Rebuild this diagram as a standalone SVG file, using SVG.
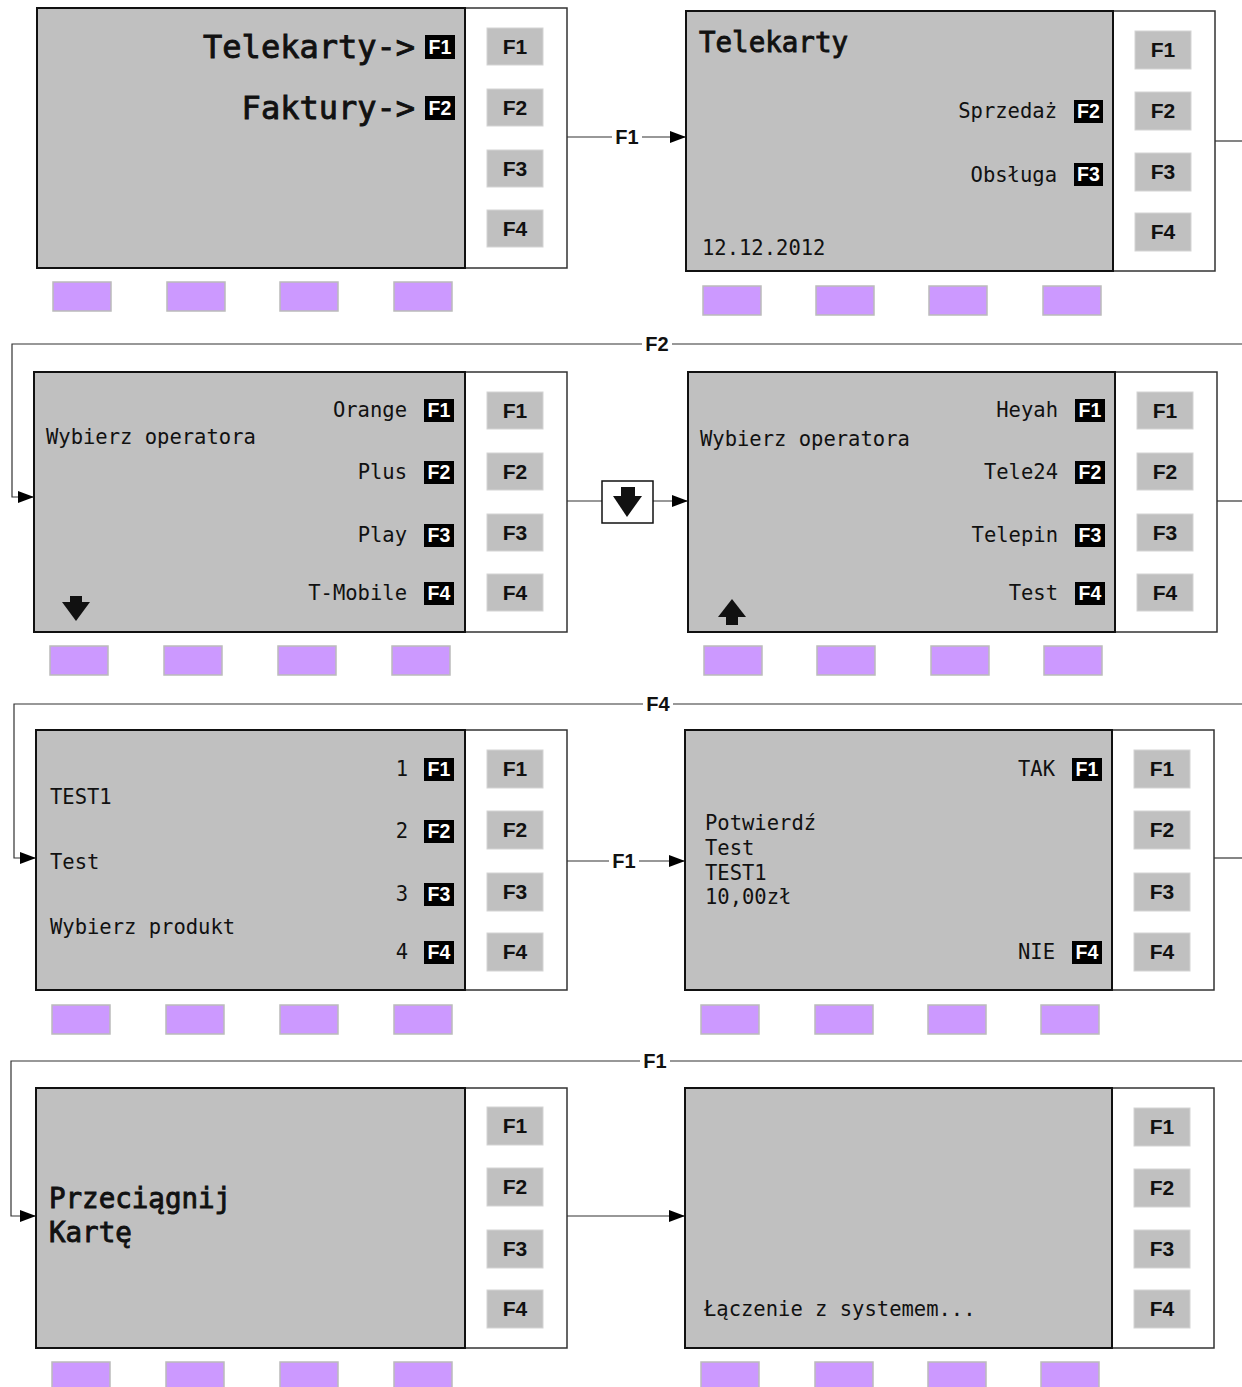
<svg xmlns="http://www.w3.org/2000/svg" width="1242" height="1387" viewBox="0 0 1242 1387">
<style>
.scr{fill:#c0c0c0;stroke:#111;stroke-width:2}
.col{fill:#fff;stroke:#333;stroke-width:1.5}
.btn{fill:#c0c0c0;stroke:#d4d4d4;stroke-width:1}
.pb{fill:#cc99ff;stroke:#bbbbbb;stroke-width:1.5}
.bt{font-family:"Liberation Sans",Arial,sans-serif;font-weight:bold;font-size:21px;fill:#111;text-anchor:middle}
.bd{fill:#000}
.bdt{font-family:"Liberation Sans",Arial,sans-serif;font-weight:bold;font-size:19.5px;fill:#fff;text-anchor:middle}
.m{font-family:"DejaVu Sans Mono","Liberation Mono",monospace;font-size:20.5px;fill:#111}
.mr{font-family:"DejaVu Sans Mono","Liberation Mono",monospace;font-size:20.5px;fill:#111;text-anchor:end}
.big{font-family:"DejaVu Sans Mono","Liberation Mono",monospace;font-weight:normal;fill:#111;stroke:#111;stroke-width:0.9}
.ln{fill:none;stroke:#333;stroke-width:1.2}
.lb{font-family:"Liberation Sans",Arial,sans-serif;font-weight:bold;font-size:20px;fill:#111;text-anchor:middle}
.ic{fill:#111}
</style>
<defs>
<marker id="ah" viewBox="0 0 16 12" refX="16" refY="6" markerWidth="16" markerHeight="12" markerUnits="userSpaceOnUse" orient="auto">
<path d="M0,0 L16,6 L0,12 Z" fill="#000"/>
</marker>
</defs>

<g id="connectors">
<line class="ln" x1="567" y1="137" x2="686" y2="137" marker-end="url(#ah)"/>
<rect x="612" y="126" width="30" height="22" fill="#fff"/>
<text class="lb" x="627" y="144">F1</text>

<line class="ln" x1="1215" y1="141" x2="1242" y2="141"/>
<polyline class="ln" points="1242,344 12,344 12,497 34,497" marker-end="url(#ah)"/>
<rect x="642" y="333" width="30" height="22" fill="#fff"/>
<text class="lb" x="657" y="351">F2</text>

<line class="ln" x1="567" y1="501" x2="602" y2="501"/>
<line class="ln" x1="653" y1="501" x2="688" y2="501" marker-end="url(#ah)"/>
<rect x="602" y="481" width="51" height="42" fill="#fff" stroke="#111" stroke-width="1.5"/>
<rect class="ic" x="621" y="487" width="14" height="10"/>
<polygon class="ic" points="613,496 642,496 627,517"/>

<line class="ln" x1="1217" y1="501" x2="1242" y2="501"/>
<polyline class="ln" points="1242,704 14,704 14,858 36,858" marker-end="url(#ah)"/>
<rect x="643" y="693" width="30" height="22" fill="#fff"/>
<text class="lb" x="658" y="711">F4</text>

<line class="ln" x1="565" y1="861" x2="685" y2="861" marker-end="url(#ah)"/>
<rect x="609" y="850" width="30" height="22" fill="#fff"/>
<text class="lb" x="624" y="868">F1</text>

<line class="ln" x1="1214" y1="858" x2="1242" y2="858"/>
<polyline class="ln" points="1242,1061 11,1061 11,1216 36,1216" marker-end="url(#ah)"/>
<rect x="640" y="1050" width="30" height="22" fill="#fff"/>
<text class="lb" x="655" y="1068">F1</text>

<line class="ln" x1="567" y1="1216" x2="685" y2="1216" marker-end="url(#ah)"/>
</g>

<g id="panel1">
<rect class="col" x="465" y="8" width="102" height="260"/>
<rect class="scr" x="37" y="8" width="428" height="260"/>
<rect class="btn" x="487" y="28" width="56" height="37"/><text class="bt" x="515" y="54">F1</text>
<rect class="btn" x="487" y="89" width="56" height="37"/><text class="bt" x="515" y="115">F2</text>
<rect class="btn" x="487" y="150" width="56" height="37"/><text class="bt" x="515" y="176">F3</text>
<rect class="btn" x="487" y="210" width="56" height="37"/><text class="bt" x="515" y="236">F4</text>
<text class="big" x="415" y="58" font-size="32" text-anchor="end">Telekarty-&gt;</text>
<text class="big" x="415" y="119" font-size="32" text-anchor="end">Faktury-&gt;</text>
<rect class="bd" x="425" y="35" width="30" height="24"/><text class="bdt" x="440" y="54">F1</text>
<rect class="bd" x="425" y="96" width="30" height="24"/><text class="bdt" x="440" y="115">F2</text>
<rect class="pb" x="53" y="282" width="58" height="29"/>
<rect class="pb" x="167" y="282" width="58" height="29"/>
<rect class="pb" x="280" y="282" width="58" height="29"/>
<rect class="pb" x="394" y="282" width="58" height="29"/>
</g>

<g id="panel2">
<rect class="col" x="1113" y="11" width="102" height="260"/>
<rect class="scr" x="686" y="11" width="427" height="260"/>
<rect class="btn" x="1135" y="31" width="56" height="38"/><text class="bt" x="1163" y="57">F1</text>
<rect class="btn" x="1135" y="92" width="56" height="38"/><text class="bt" x="1163" y="118">F2</text>
<rect class="btn" x="1135" y="153" width="56" height="38"/><text class="bt" x="1163" y="179">F3</text>
<rect class="btn" x="1135" y="213" width="56" height="38"/><text class="bt" x="1163" y="239">F4</text>
<text class="big" x="699" y="52" font-size="27.5">Telekarty</text>
<text class="mr" x="1057" y="118">Sprzedaż</text>
<text class="mr" x="1057" y="182">Obsługa</text>
<rect class="bd" x="1074" y="100" width="29" height="23"/><text class="bdt" x="1088.5" y="118">F2</text>
<rect class="bd" x="1074" y="163" width="29" height="23"/><text class="bdt" x="1088.5" y="181">F3</text>
<text class="m" x="702" y="255">12.12.2012</text>
<rect class="pb" x="703" y="286" width="58" height="29"/>
<rect class="pb" x="816" y="286" width="58" height="29"/>
<rect class="pb" x="929" y="286" width="58" height="29"/>
<rect class="pb" x="1043" y="286" width="58" height="29"/>
</g>

<g id="panel3">
<rect class="col" x="465" y="372" width="102" height="260"/>
<rect class="scr" x="34" y="372" width="431" height="260"/>
<rect class="btn" x="487" y="392" width="56" height="37"/><text class="bt" x="515" y="418">F1</text>
<rect class="btn" x="487" y="453" width="56" height="37"/><text class="bt" x="515" y="479">F2</text>
<rect class="btn" x="487" y="514" width="56" height="37"/><text class="bt" x="515" y="540">F3</text>
<rect class="btn" x="487" y="574" width="56" height="37"/><text class="bt" x="515" y="600">F4</text>
<text class="m" x="46" y="444">Wybierz operatora</text>
<text class="mr" x="407" y="417">Orange</text>
<text class="mr" x="407" y="479">Plus</text>
<text class="mr" x="407" y="542">Play</text>
<text class="mr" x="407" y="600">T-Mobile</text>
<rect class="bd" x="424" y="399" width="30" height="23"/><text class="bdt" x="439" y="417">F1</text>
<rect class="bd" x="424" y="461" width="30" height="23"/><text class="bdt" x="439" y="479">F2</text>
<rect class="bd" x="424" y="524" width="30" height="23"/><text class="bdt" x="439" y="542">F3</text>
<rect class="bd" x="424" y="582" width="30" height="23"/><text class="bdt" x="439" y="600">F4</text>
<rect class="ic" x="70" y="596" width="12" height="7"/>
<polygon class="ic" points="62,602 90,602 76,621"/>
<rect class="pb" x="50" y="646" width="58" height="29"/>
<rect class="pb" x="164" y="646" width="58" height="29"/>
<rect class="pb" x="278" y="646" width="58" height="29"/>
<rect class="pb" x="392" y="646" width="58" height="29"/>
</g>

<g id="panel4">
<rect class="col" x="1115" y="372" width="102" height="260"/>
<rect class="scr" x="688" y="372" width="427" height="260"/>
<rect class="btn" x="1137" y="392" width="56" height="37"/><text class="bt" x="1165" y="418">F1</text>
<rect class="btn" x="1137" y="453" width="56" height="37"/><text class="bt" x="1165" y="479">F2</text>
<rect class="btn" x="1137" y="514" width="56" height="37"/><text class="bt" x="1165" y="540">F3</text>
<rect class="btn" x="1137" y="574" width="56" height="37"/><text class="bt" x="1165" y="600">F4</text>
<text class="m" x="700" y="446">Wybierz operatora</text>
<text class="mr" x="1058" y="417">Heyah</text>
<text class="mr" x="1058" y="479">Tele24</text>
<text class="mr" x="1058" y="542">Telepin</text>
<text class="mr" x="1058" y="600">Test</text>
<rect class="bd" x="1075" y="399" width="30" height="23"/><text class="bdt" x="1090" y="417">F1</text>
<rect class="bd" x="1075" y="461" width="30" height="23"/><text class="bdt" x="1090" y="479">F2</text>
<rect class="bd" x="1075" y="524" width="30" height="23"/><text class="bdt" x="1090" y="542">F3</text>
<rect class="bd" x="1075" y="582" width="30" height="23"/><text class="bdt" x="1090" y="600">F4</text>
<polygon class="ic" points="718,617 746,617 732,599"/>
<rect class="ic" x="726" y="616" width="12" height="9"/>
<rect class="pb" x="704" y="646" width="58" height="29"/>
<rect class="pb" x="817" y="646" width="58" height="29"/>
<rect class="pb" x="931" y="646" width="58" height="29"/>
<rect class="pb" x="1044" y="646" width="58" height="29"/>
</g>

<g id="panel5">
<rect class="col" x="465" y="730" width="102" height="260"/>
<rect class="scr" x="36" y="730" width="429" height="260"/>
<rect class="btn" x="487" y="750" width="56" height="38"/><text class="bt" x="515" y="776">F1</text>
<rect class="btn" x="487" y="811" width="56" height="38"/><text class="bt" x="515" y="837">F2</text>
<rect class="btn" x="487" y="873" width="56" height="38"/><text class="bt" x="515" y="899">F3</text>
<rect class="btn" x="487" y="933" width="56" height="38"/><text class="bt" x="515" y="959">F4</text>
<text class="m" x="50" y="804">TEST1</text>
<text class="m" x="50" y="869">Test</text>
<text class="m" x="50" y="934">Wybierz produkt</text>
<text class="mr" x="408" y="776">1</text>
<text class="mr" x="408" y="838">2</text>
<text class="mr" x="408" y="901">3</text>
<text class="mr" x="408" y="959">4</text>
<rect class="bd" x="424" y="758" width="30" height="23"/><text class="bdt" x="439" y="776">F1</text>
<rect class="bd" x="424" y="820" width="30" height="23"/><text class="bdt" x="439" y="838">F2</text>
<rect class="bd" x="424" y="883" width="30" height="23"/><text class="bdt" x="439" y="901">F3</text>
<rect class="bd" x="424" y="941" width="30" height="23"/><text class="bdt" x="439" y="959">F4</text>
<rect class="pb" x="52" y="1005" width="58" height="29"/>
<rect class="pb" x="166" y="1005" width="58" height="29"/>
<rect class="pb" x="280" y="1005" width="58" height="29"/>
<rect class="pb" x="394" y="1005" width="58" height="29"/>
</g>

<g id="panel6">
<rect class="col" x="1112" y="730" width="102" height="260"/>
<rect class="scr" x="685" y="730" width="427" height="260"/>
<rect class="btn" x="1134" y="750" width="56" height="38"/><text class="bt" x="1162" y="776">F1</text>
<rect class="btn" x="1134" y="811" width="56" height="38"/><text class="bt" x="1162" y="837">F2</text>
<rect class="btn" x="1134" y="873" width="56" height="38"/><text class="bt" x="1162" y="899">F3</text>
<rect class="btn" x="1134" y="933" width="56" height="38"/><text class="bt" x="1162" y="959">F4</text>
<text class="mr" x="1055" y="776">TAK</text>
<text class="mr" x="1055" y="959">NIE</text>
<rect class="bd" x="1072" y="758" width="30" height="23"/><text class="bdt" x="1087" y="776">F1</text>
<rect class="bd" x="1072" y="941" width="30" height="23"/><text class="bdt" x="1087" y="959">F4</text>
<text class="m" x="705" y="830">Potwierdź</text>
<text class="m" x="705" y="855">Test</text>
<text class="m" x="705" y="880">TEST1</text>
<text class="m" x="705" y="904">10,00zł</text>
<rect class="pb" x="701" y="1005" width="58" height="29"/>
<rect class="pb" x="815" y="1005" width="58" height="29"/>
<rect class="pb" x="928" y="1005" width="58" height="29"/>
<rect class="pb" x="1041" y="1005" width="58" height="29"/>
</g>

<g id="panel7">
<rect class="col" x="465" y="1088" width="102" height="260"/>
<rect class="scr" x="36" y="1088" width="429" height="260"/>
<rect class="btn" x="487" y="1107" width="56" height="38"/><text class="bt" x="515" y="1133">F1</text>
<rect class="btn" x="487" y="1168" width="56" height="38"/><text class="bt" x="515" y="1194">F2</text>
<rect class="btn" x="487" y="1230" width="56" height="38"/><text class="bt" x="515" y="1256">F3</text>
<rect class="btn" x="487" y="1290" width="56" height="38"/><text class="bt" x="515" y="1316">F4</text>
<text class="big" x="49" y="1208" font-size="27.5">Przeciągnij</text>
<text class="big" x="49" y="1242" font-size="27.5">Kartę</text>
<rect class="pb" x="52" y="1362" width="58" height="29"/>
<rect class="pb" x="166" y="1362" width="58" height="29"/>
<rect class="pb" x="280" y="1362" width="58" height="29"/>
<rect class="pb" x="394" y="1362" width="58" height="29"/>
</g>

<g id="panel8">
<rect class="col" x="1112" y="1088" width="102" height="260"/>
<rect class="scr" x="685" y="1088" width="427" height="260"/>
<rect class="btn" x="1134" y="1108" width="56" height="38"/><text class="bt" x="1162" y="1134">F1</text>
<rect class="btn" x="1134" y="1169" width="56" height="38"/><text class="bt" x="1162" y="1195">F2</text>
<rect class="btn" x="1134" y="1230" width="56" height="38"/><text class="bt" x="1162" y="1256">F3</text>
<rect class="btn" x="1134" y="1290" width="56" height="38"/><text class="bt" x="1162" y="1316">F4</text>
<text class="m" x="704" y="1316">Łączenie z systemem...</text>
<rect class="pb" x="701" y="1362" width="58" height="29"/>
<rect class="pb" x="815" y="1362" width="58" height="29"/>
<rect class="pb" x="928" y="1362" width="58" height="29"/>
<rect class="pb" x="1041" y="1362" width="58" height="29"/>
</g>
</svg>
